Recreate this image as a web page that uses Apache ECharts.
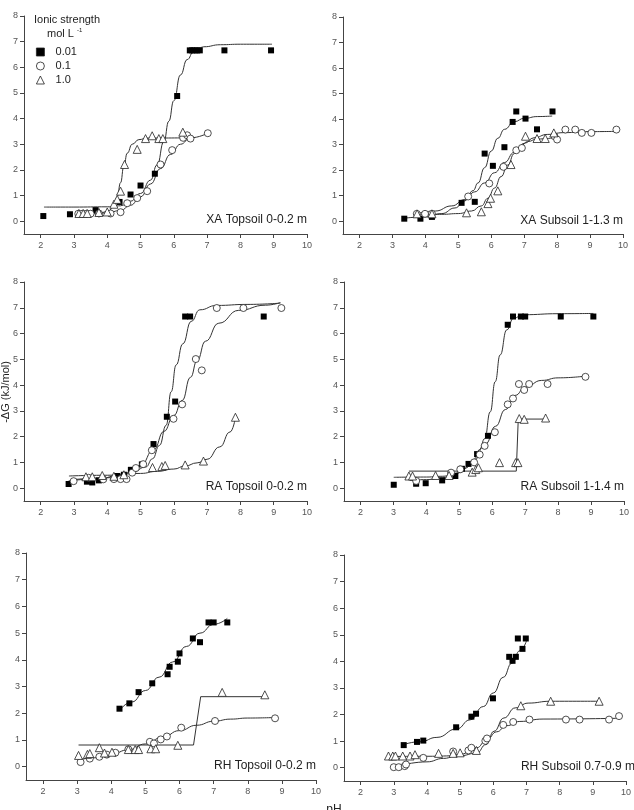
<!DOCTYPE html>
<html>
<head>
<meta charset="UTF-8">
<script src="https://cdn.jsdelivr.net/npm/echarts@6/dist/echarts.min.js"></script>
<style>
  html, body { margin: 0; padding: 0; background: #fff; }
  #chart { width: 634px; height: 810px; }
</style>
</head>
<body>
<div id="chart"></div>
<script>
// tick labels
var xTicks = [2, 3, 4, 5, 6, 7, 8, 9, 10];
var yTicks = [0, 1, 2, 3, 4, 5, 6, 7, 8];
var levels = ['0.01', '0.1', '1.0'];
var panelNames = ['XA Topsoil 0-0.2 m', 'XA Subsoil 1-1.3 m', 'RA Topsoil 0-0.2 m',
                  'RA Subsoil 1-1.4 m', 'RH Topsoil 0-0.2 m', 'RH Subsoil 0.7-0.9 m'];

// XA Topsoil
var xaTopSq = [[2.08,0.2],[2.88,0.27],[3.65,0.43],[4.37,0.75],[4.7,1.04],[5.0,1.39],[5.43,1.85],[6.1,4.88],[6.48,6.66],[6.55,6.66],[6.62,6.66],[6.7,6.66],[6.78,6.66],[7.52,6.66],[8.92,6.66]];
var xaTopCi = [[3.13,0.29],[3.25,0.29],[3.38,0.29],[3.5,0.29],[3.75,0.3],[4.1,0.3],[4.4,0.35],[4.6,0.7],[4.9,0.9],[5.2,1.17],[5.6,2.21],[5.95,2.77],[6.28,3.25],[6.4,3.35],[6.5,3.22],[7.02,3.43]];
var xaTopTr = [[3.15,0.3],[3.28,0.3],[3.4,0.3],[3.75,0.34],[4.0,0.36],[4.2,0.66],[4.3,0.85],[4.4,1.17],[4.52,2.21],[4.9,2.8],[5.15,3.22],[5.35,3.33],[5.55,3.22],[5.67,3.22],[6.27,3.47]];
var xaTopSqFit = [[2.1,0.55],[3.0,0.55],[4.0,0.56],[4.4,0.6],[4.7,0.78],[5.0,1.08],[5.3,1.6],[5.5,2.2],[5.7,3.1],[5.85,3.9],[6.0,4.7],[6.2,5.7],[6.4,6.3],[6.6,6.62],[6.9,6.8],[7.4,6.88],[8.0,6.9],[8.95,6.9]];
var xaTopCiFit = [[3.1,0.28],[3.5,0.29],[4.0,0.32],[4.4,0.42],[4.7,0.62],[5.0,0.95],[5.3,1.45],[5.6,2.05],[5.9,2.6],[6.2,3.0],[6.5,3.25],[7.0,3.42]];
var xaTopTrFit = [[3.1,0.3],[3.8,0.33],[4.05,0.4],[4.2,0.62],[4.3,0.95],[4.4,1.5],[4.5,2.15],[4.6,2.65],[4.75,3.0],[4.95,3.18],[5.2,3.24],[6.4,3.25]];

// XA Subsoil
var xaSubSq = [[3.36,0.1],[3.85,0.1],[4.2,0.17],[5.1,0.72],[5.5,0.76],[5.8,2.65],[6.05,2.17],[6.4,2.9],[6.65,3.89],[6.76,4.3],[7.04,4.02],[7.39,3.6],[7.86,4.3]];
var xaSubCi = [[3.74,0.29],[3.99,0.29],[4.2,0.29],[5.3,0.97],[5.94,1.48],[6.37,2.13],[6.76,2.78],[6.93,2.87],[7.92,3.33],[8.0,3.2],[8.25,3.59],[8.55,3.59],[8.75,3.46],[9.04,3.46],[9.8,3.59]];
var xaSubTr = [[3.75,0.29],[4.2,0.29],[5.25,0.33],[5.7,0.37],[5.9,0.69],[5.98,0.9],[6.2,1.19],[6.6,2.22],[7.04,3.33],[7.39,3.24],[7.64,3.24],[7.9,3.46]];
var xaSubSqFit = [[3.36,0.12],[4.0,0.17],[4.5,0.3],[4.9,0.52],[5.2,0.8],[5.45,1.2],[5.6,1.5],[5.8,2.1],[6.0,2.75],[6.2,3.25],[6.4,3.6],[6.7,3.9],[7.0,4.03],[7.4,4.1],[7.85,4.12]];
var xaSubCiFit = [[3.74,0.3],[4.3,0.4],[4.8,0.6],[5.2,0.85],[5.5,1.15],[5.8,1.5],[6.1,1.9],[6.4,2.3],[6.7,2.7],[7.0,3.05],[7.3,3.27],[7.7,3.4],[8.2,3.47],[9.0,3.51],[9.8,3.52]];
var xaSubTrFit = [[3.75,0.25],[4.5,0.27],[5.0,0.3],[5.4,0.4],[5.7,0.6],[5.9,0.9],[6.1,1.3],[6.3,1.75],[6.5,2.2],[6.7,2.65],[6.9,2.95],[7.1,3.12],[7.4,3.22],[7.9,3.27]];

// RA Topsoil
var raTopSq = [[2.84,0.16],[3.39,0.25],[3.55,0.22],[3.75,0.3],[4.3,0.47],[4.5,0.52],[4.71,0.71],[5.04,0.92],[5.39,1.71],[5.79,2.77],[6.04,3.36],[6.34,6.66],[6.49,6.66],[8.7,6.66]];
var raTopCi = [[2.99,0.27],[3.44,0.4],[3.88,0.34],[4.2,0.35],[4.4,0.35],[4.58,0.35],[4.75,0.6],[4.86,0.78],[5.08,0.93],[5.34,1.47],[5.99,2.69],[6.25,3.25],[6.66,5.01],[6.84,4.57],[7.29,6.99],[8.09,6.99],[9.23,6.99]];
var raTopTr = [[3.36,0.44],[3.55,0.44],[3.85,0.49],[4.2,0.46],[4.5,0.52],[5.36,0.8],[5.64,0.84],[5.74,0.88],[6.34,0.9],[6.89,1.05],[7.85,2.75]];
var raTopSqFit = [[2.84,0.28],[3.75,0.36],[4.3,0.48],[4.76,0.62],[5.16,0.82],[5.36,1.14],[5.57,1.66],[5.77,2.44],[5.92,3.74],[6.07,4.78],[6.27,5.6],[6.52,6.47],[6.78,6.92],[7.28,7.09],[8.2,7.13],[9.2,7.18]];
var raTopCiFit = [[2.99,0.33],[4.0,0.4],[4.6,0.58],[5.0,0.88],[5.4,1.5],[5.7,2.2],[6.0,2.82],[6.25,3.4],[6.5,4.3],[6.7,4.95],[6.95,5.7],[7.35,6.4],[7.95,6.9],[8.75,7.1],[9.2,7.2]];
var raTopTrFit = [[2.85,0.47],[4.0,0.5],[5.0,0.57],[5.5,0.65],[6.0,0.74],[6.34,0.86],[6.7,0.98],[7.0,1.12],[7.38,1.6],[7.69,2.18],[7.85,2.72]];

// RA Subsoil
var raSubSq = [[3.01,0.13],[3.69,0.17],[3.98,0.19],[4.48,0.3],[4.88,0.47],[5.08,0.75],[5.28,0.94],[5.54,1.32],[5.87,2.03],[6.47,6.34],[6.63,6.66],[6.87,6.66],[7.0,6.66],[8.08,6.66],[9.07,6.66]];
var raSubCi = [[3.69,0.28],[4.75,0.6],[5.03,0.73],[5.45,1.0],[5.62,1.3],[5.77,1.64],[6.08,2.17],[6.47,3.25],[6.63,3.48],[6.81,4.04],[6.97,3.81],[7.12,4.04],[7.68,4.04],[8.83,4.32]];
var raSubTr = [[3.47,0.47],[3.58,0.47],[4.28,0.49],[4.69,0.49],[5.39,0.62],[5.5,0.72],[5.58,0.79],[6.22,0.99],[6.71,0.99],[6.78,0.99],[6.82,2.7],[6.97,2.67],[7.62,2.72]];
var raSubSqFit = [[3.01,0.42],[4.0,0.43],[4.5,0.46],[4.9,0.56],[5.2,0.78],[5.45,1.12],[5.62,1.5],[5.77,1.92],[5.94,2.96],[6.09,4.13],[6.24,5.17],[6.44,6.14],[6.65,6.6],[6.95,6.73],[8.0,6.77],[9.07,6.78]];
var raSubCiFit = [[3.5,0.3],[4.0,0.33],[4.5,0.4],[5.0,0.6],[5.4,1.0],[5.8,1.72],[6.1,2.4],[6.4,3.05],[6.7,3.6],[7.0,3.92],[7.5,4.18],[8.0,4.28],[8.85,4.35]];
var raSubTrFit = [[3.47,0.66],[6.73,0.66],[6.79,2.68],[7.66,2.68]];

// RH Topsoil
var rhTopSq = [[4.24,2.17],[4.53,2.37],[4.8,2.79],[5.2,3.12],[5.65,3.46],[5.71,3.74],[5.95,3.93],[6.0,4.24],[6.39,4.8],[6.6,4.66],[6.85,5.4],[7.0,5.4],[7.4,5.4]];
var rhTopCi = [[3.1,0.17],[3.37,0.3],[3.65,0.37],[3.87,0.45],[4.12,0.52],[4.5,0.65],[5.13,0.93],[5.25,0.87],[5.45,1.02],[5.63,1.13],[6.05,1.46],[7.04,1.71],[8.8,1.81]];
var rhTopTr = [[3.04,0.42],[3.3,0.46],[3.37,0.49],[3.65,0.71],[3.8,0.51],[4.02,0.54],[4.5,0.64],[4.7,0.64],[4.8,0.64],[5.16,0.67],[5.3,0.67],[5.95,0.8],[7.25,2.78],[8.5,2.69]];
var rhTopSqFit = [[4.24,2.1],[4.6,2.42],[5.0,2.85],[5.4,3.35],[5.8,3.92],[6.2,4.5],[6.6,5.0],[7.0,5.33],[7.4,5.55]];
var rhTopCiFit = [[3.05,0.25],[3.5,0.33],[4.0,0.47],[4.5,0.63],[5.0,0.85],[5.5,1.1],[6.0,1.35],[6.5,1.55],[7.0,1.7],[7.5,1.78],[8.0,1.82],[8.8,1.84]];
var rhTopTrFit = [[3.04,0.81],[6.41,0.81],[6.62,2.62],[8.56,2.62]];

// RH Subsoil
var rhSubSq = [[3.3,0.85],[3.7,0.97],[3.89,1.02],[4.88,1.52],[5.34,1.92],[5.48,2.03],[5.99,2.61],[6.48,4.17],[6.58,4.02],[6.68,4.17],[6.74,4.86],[6.88,4.47],[6.98,4.86]];
var rhSubCi = [[3.0,0.02],[3.15,0.02],[3.33,0.06],[3.37,0.12],[3.89,0.37],[4.79,0.61],[5.25,0.65],[5.34,0.75],[5.76,1.01],[5.81,1.1],[6.3,1.61],[6.6,1.72],[7.09,1.81],[8.19,1.81],[8.6,1.81],[9.49,1.81],[9.79,1.94]];
var rhSubTr = [[2.84,0.44],[2.97,0.44],[3.05,0.44],[3.27,0.44],[3.49,0.44],[3.64,0.49],[4.35,0.54],[4.79,0.54],[5.0,0.56],[5.49,0.65],[6.83,2.33],[7.73,2.5],[9.19,2.5]];
var rhSubSqFit = [[3.3,0.87],[3.8,0.98],[4.3,1.14],[4.9,1.46],[5.3,1.8],[5.7,2.3],[6.0,2.81],[6.3,3.4],[6.56,3.93],[6.8,4.4],[7.0,4.77]];
var rhSubCiFit = [[3.33,0.12],[4.0,0.22],[4.5,0.35],[5.0,0.5],[5.5,0.75],[5.8,1.05],[6.1,1.35],[6.4,1.58],[6.8,1.74],[7.5,1.83],[9.8,1.86]];
var rhSubTrFit = [[2.84,0.42],[4.0,0.43],[5.0,0.45],[5.5,0.55],[5.78,0.87],[6.02,1.37],[6.32,1.87],[6.66,2.25],[7.05,2.43],[7.73,2.5],[9.2,2.5]];

var panels = [
    {pts: [xaTopSq, xaTopCi, xaTopTr], fits: [xaTopSqFit, xaTopCiFit, xaTopTrFit], step: false},
    {pts: [xaSubSq, xaSubCi, xaSubTr], fits: [xaSubSqFit, xaSubCiFit, xaSubTrFit], step: false},
    {pts: [raTopSq, raTopCi, raTopTr], fits: [raTopSqFit, raTopCiFit, raTopTrFit], step: false},
    {pts: [raSubSq, raSubCi, raSubTr], fits: [raSubSqFit, raSubCiFit, raSubTrFit], step: true},
    {pts: [rhTopSq, rhTopCi, rhTopTr], fits: [rhTopSqFit, rhTopCiFit, rhTopTrFit], step: true},
    {pts: [rhSubSq, rhSubCi, rhSubTr], fits: [rhSubSqFit, rhSubCiFit, rhSubTrFit], step: false}
];

// grid boxes (px)
var grids = [
    {left: 24, top: 16, width: 283, height: 218},
    {left: 343, top: 17, width: 280, height: 217},
    {left: 24, top: 282, width: 283, height: 219},
    {left: 344, top: 282, width: 280, height: 219},
    {left: 26, top: 553, width: 290, height: 227},
    {left: 344, top: 555, width: 291, height: 226}
];

var FONT = 'Liberation Sans, Arial, sans-serif';
var symbols = ['rect', 'circle', 'triangle'];
var symbolSizes = [6, 7, 8];
var fills = ['#000', '#fff', '#fff'];

var myChart = echarts.init(document.getElementById('chart'), null, {renderer: 'canvas'});

var xAxes = [], yAxes = [], series = [], graphics = [];
grids.forEach(function (g, i) {
    xAxes.push({
        gridIndex: i, type: 'value', min: 1.5, max: 10,
        axisLine: {onZero: false, lineStyle: {color: '#444', width: 1}},
        axisTick: {customValues: xTicks, length: 4, lineStyle: {color: '#444'}},
        axisLabel: {customValues: xTicks, fontSize: 9, color: '#555', fontFamily: FONT, margin: 7},
        splitLine: {show: false}
    });
    yAxes.push({
        gridIndex: i, type: 'value', min: -0.5, max: 8,
        axisLine: {show: true, onZero: false, lineStyle: {color: '#444', width: 1}},
        axisTick: {show: true, customValues: yTicks, length: 4, lineStyle: {color: '#444'}},
        axisLabel: {customValues: yTicks, fontSize: 9, color: '#555', fontFamily: FONT, margin: 6},
        splitLine: {show: false}
    });
    var p = panels[i];
    for (var k = 0; k < 3; k++) {
        var isStep = p.step && k === 2;
        series.push({
            type: 'line', xAxisIndex: i, yAxisIndex: i,
            data: p.fits[k], showSymbol: false, symbol: 'none',
            smooth: isStep ? false : 0.5, smoothMonotone: 'x',
            lineStyle: {color: '#333', width: 1},
            silent: true, z: 2
        });
        series.push({
            name: levels[k], type: 'scatter', xAxisIndex: i, yAxisIndex: i,
            data: p.pts[k], symbol: symbols[k], symbolSize: symbolSizes[k],
            itemStyle: {color: fills[k], borderColor: '#222', borderWidth: k === 0 ? 0 : 0.8, opacity: 1},
            z: 3
        });
    }
    var zeroY = g.top + g.height * (8 / 8.5);
    graphics.push({
        type: 'text', right: 634 - (g.left + g.width), top: zeroY - 7,
        style: {text: panelNames[i], fontSize: 12, fill: '#222', fontFamily: FONT}
    });
});

// axis titles and legend header
graphics.push({
    type: 'text', x: 6, y: 392, rotation: Math.PI / 2,
    style: {text: '-ΔG (kJ/mol)', fontSize: 11, fill: '#222', fontFamily: FONT, align: 'center', verticalAlign: 'middle'}
});
graphics.push({
    type: 'text', x: 334, y: 804,
    style: {text: 'pH', fontSize: 12, fill: '#222', fontFamily: FONT, align: 'center', verticalAlign: 'top'}
});
graphics.push({
    type: 'text', x: 34, y: 14,
    style: {text: 'Ionic strength', fontSize: 11, fill: '#222', fontFamily: FONT}
});
graphics.push({
    type: 'text', x: 47, y: 28,
    style: {text: 'mol L', fontSize: 11, fill: '#222', fontFamily: FONT}
});
graphics.push({
    type: 'text', x: 77, y: 27,
    style: {text: '-1', fontSize: 6, fill: '#222', fontFamily: FONT}
});

var option = {
    animation: false,
    backgroundColor: '#fff',
    grid: grids.map(function (g) { return {left: g.left, top: g.top, width: g.width, height: g.height, containLabel: false}; }),
    xAxis: xAxes,
    yAxis: yAxes,
    legend: {
        data: levels, orient: 'vertical', left: 31, top: 41,
        itemWidth: 8, itemHeight: 8, itemGap: 2,
        itemStyle: {borderWidth: 0.8},
        formatter: function (name) { return '  ' + name; },
        textStyle: {fontSize: 11, lineHeight: 12, color: '#222', fontFamily: FONT},
        selectedMode: false
    },
    series: series,
    graphic: graphics
};
myChart.setOption(option);
</script>
</body>
</html>
